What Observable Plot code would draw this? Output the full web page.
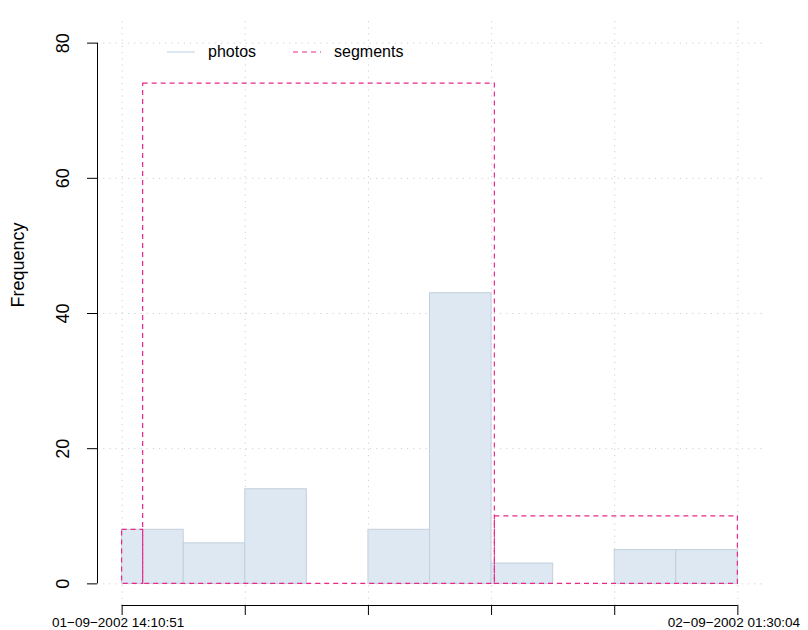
<!DOCTYPE html>
<html>
<head>
<meta charset="utf-8">
<script src="https://cdn.jsdelivr.net/npm/d3@7"></script>
<script src="https://cdn.jsdelivr.net/npm/@observablehq/plot@0.6"></script>
<style>
  html, body { margin: 0; padding: 0; background: #fff; }
  #wrap { position: relative; width: 808px; height: 630px; font-family: "Liberation Sans", Arial, Helvetica, sans-serif; }
  #legend { position: absolute; left: 167px; top: 41px; display: flex; align-items: center; font-size: 16px; color: #000; }
  #legend .item { display: flex; align-items: center; }
  #legend svg { display: block; }
</style>
</head>
<body>
<div id="wrap">
  <div id="chart"></div>
  <div id="legend">
    <div class="item">
      <svg width="28" height="22"><line x1="0" x2="28" y1="11" y2="11" stroke="#dde8f3" stroke-width="2"/></svg>
      <span style="margin-left:13px">photos</span>
    </div>
    <div class="item" style="margin-left:37px">
      <svg width="28" height="22"><line x1="0" x2="28" y1="11" y2="11" stroke="#e7298a" stroke-width="1.2" stroke-dasharray="5,4"/></svg>
      <span style="margin-left:13px">segments</span>
    </div>
  </div>
</div>
<script>
// Time range covered by the photo histogram
const rangeStart = "2002-09-01T14:10:51Z";
const rangeEnd = "2002-09-02T01:30:04Z";

// Photos per bin (10 equal-width bins over the range)
const photoCounts = [8, 6, 14, 0, 8, 43, 3, 0, 5, 5];

// Detected segments: start, end and number of photos in each
const segmentStarts = ["2002-09-01T14:10:51Z", "2002-09-01T14:34:03Z", "2002-09-01T21:02:00Z"];
const segmentEnds = ["2002-09-01T14:34:03Z", "2002-09-01T21:02:00Z", "2002-09-02T01:30:04Z"];
const segmentCounts = [8, 74, 10];

// Axis ticks and labels
const yTicks = [0, 20, 40, 60, 80];
const xTickCount = 6;
const xTickLabels = ["01\u221209\u22122002 14:10:51", "", "", "", "", "02\u221209\u22122002 01:30:04"];

const t0 = new Date(rangeStart);
const t1 = new Date(rangeEnd);
const span = t1 - t0;
const binWidth = span / photoCounts.length;

const bins = photoCounts.map((count, i) => ({
  x1: new Date(+t0 + i * binWidth),
  x2: new Date(+t0 + (i + 1) * binWidth),
  count
}));

const segments = segmentCounts.map((count, i) => ({
  x1: new Date(segmentStarts[i]),
  x2: new Date(segmentEnds[i]),
  count
}));

const xTicks = d3.range(xTickCount).map(i => new Date(+t0 + i * span / (xTickCount - 1)));
const xLabelled = xTicks.map((t, i) => ({t, label: xTickLabels[i]})).filter(d => d.label);

// Plot region padded by 4% on each side
const yMax = 80;
const xDomain = [new Date(+t0 - 0.04 * span), new Date(+t1 + 0.04 * span)];
const yDomain = [-0.04 * yMax, yMax * 1.04];

const pink = "#e7298a";
const grid = "#cfcfcf";

const chart = Plot.plot({
  width: 808,
  height: 630,
  marginLeft: 97,
  marginRight: 46,
  marginTop: 21,
  marginBottom: 25,
  style: {fontFamily: "'Liberation Sans', Arial, Helvetica, sans-serif", fontSize: "18px", background: "#fff", color: "#000"},
  x: {type: "utc", domain: xDomain},
  y: {domain: yDomain},
  marks: [
    // dotted grid
    Plot.ruleX(xTicks, {stroke: grid, strokeDasharray: "1.2,5"}),
    Plot.ruleY(yTicks, {stroke: grid, strokeDasharray: "1.2,5"}),
    // photo histogram
    Plot.rect(bins, {x1: "x1", x2: "x2", y1: 0, y2: "count", fill: "#dde8f3", stroke: "#c3cfdc", strokeWidth: 1}),
    // segment rectangles
    Plot.rect(segments, {x1: "x1", x2: "x2", y1: 0, y2: "count", fill: "none", stroke: pink, strokeWidth: 1.2, strokeDasharray: "5,4"}),
    // y axis
    Plot.ruleX([xDomain[0]], {y1: yTicks[0], y2: yTicks[yTicks.length - 1], stroke: "#000"}),
    Plot.axisY({ticks: yTicks, tickSize: 10, tickFormat: () => "", label: null}),
    Plot.text(yTicks, {x: xDomain[0], y: d => d, text: d => String(d), rotate: -90, dx: -34, fontSize: 18}),
    Plot.text(["Frequency"], {frameAnchor: "left", dx: -79, dy: -6, rotate: -90, fontSize: 18}),
    // x axis
    Plot.ruleY([yDomain[0]], {x1: xTicks[0], x2: xTicks[xTicks.length - 1], stroke: "#000"}),
    Plot.axisX({ticks: xTicks, tickSize: 10, tickFormat: () => "", label: null}),
    Plot.text(xLabelled, {x: "t", y: yDomain[0], text: "label", dy: 17, dx: -4, fontSize: 13.5})
  ]
});

document.getElementById("chart").appendChild(chart);
</script>
</body>
</html>
